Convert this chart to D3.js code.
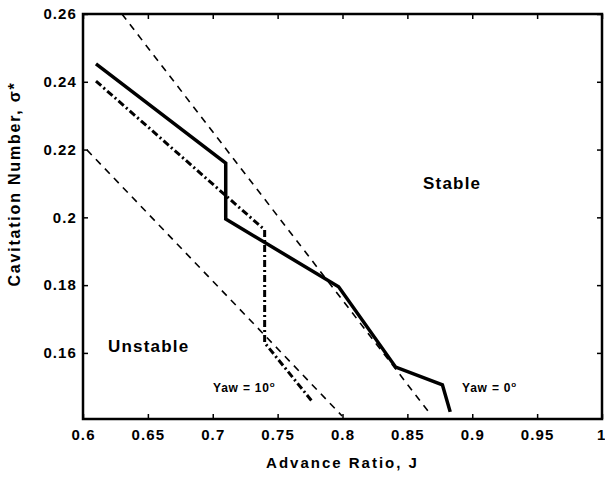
<!DOCTYPE html>
<html><head><meta charset="utf-8">
<script src="https://cdn.jsdelivr.net/npm/d3@7"></script>
<style>
body{margin:0;background:#fff;}
text{font-family:"Liberation Sans",Arial,Helvetica,sans-serif;font-weight:bold;fill:#000;}
</style></head>
<body><svg id="c" width="605" height="478"></svg>
<script>
// Data
const xTicks = [0.6,0.65,0.7,0.75,0.8,0.85,0.9,0.95,1];
const xTickLabels = ["0.6","0.65","0.7","0.75","0.8","0.85","0.9","0.95","1"];
const yTicks = [0.16,0.18,0.2,0.22,0.24,0.26];
const yTickLabels = ["0.16","0.18","0.2","0.22","0.24","0.26"];
const yaw0J = [0.61, 0.71, 0.71, 0.797, 0.841, 0.877, 0.883];
const yaw0Sigma = [0.2453, 0.216, 0.1995, 0.1795, 0.1558, 0.1506, 0.1426];
const yaw10J = [0.61, 0.74, 0.74, 0.777];
const yaw10Sigma = [0.2402, 0.1963, 0.163, 0.1455];
const upperBoundJ = [0.63, 0.867];
const upperBoundSigma = [0.26, 0.1423];
const lowerBoundJ = [0.603, 0.7997];
const lowerBoundSigma = [0.2199, 0.1414];

const L=83, R=602, T=14, B=419;
const svg = d3.select("#c");
const x = d3.scaleLinear().domain([0.6,1]).range([L,R]);
const y = d3.scaleLinear().domain([0.1405,0.26]).range([B,T]);

const fmtX = d=>xTickLabels[xTicks.indexOf(d)];
const fmtY = d=>yTickLabels[yTicks.indexOf(d)];

function styleAxis(g){
  g.select(".domain").remove();
  g.selectAll(".tick line").attr("stroke","#000").attr("stroke-width",1.5);
  g.selectAll(".tick text").style("font-size","15px").style("letter-spacing","1.1px");
}
const gx = svg.append("g").attr("transform",`translate(0,${B})`)
  .call(d3.axisBottom(x).tickValues(xTicks).tickFormat(fmtX).tickSizeInner(-5).tickSizeOuter(0).tickPadding(10))
  .call(styleAxis);
// keep the last label ("1") inside the picture
gx.selectAll(".tick text").filter(d=>d===1).attr("text-anchor","end").attr("dx",4);
svg.append("g").attr("transform",`translate(0,${T})`)
  .call(d3.axisTop(x).tickValues(xTicks).tickFormat("").tickSizeInner(-5).tickSizeOuter(0))
  .call(styleAxis);
svg.append("g").attr("transform",`translate(${L},0)`)
  .call(d3.axisLeft(y).tickValues(yTicks).tickFormat(fmtY).tickSizeInner(-5).tickSizeOuter(0).tickPadding(6))
  .call(styleAxis);
svg.append("g").attr("transform",`translate(${R},0)`)
  .call(d3.axisRight(y).tickValues(yTicks).tickFormat("").tickSizeInner(-5).tickSizeOuter(0))
  .call(styleAxis);

svg.append("rect").attr("x",L).attr("y",T).attr("width",R-L).attr("height",B-T)
  .attr("fill","none").attr("stroke","#000").attr("stroke-width",2.5);

const line = d3.line().x(d=>x(d[0])).y(d=>y(d[1]));
const zip = (a,b)=>a.map((v,i)=>[v,b[i]]);

svg.append("path").datum(zip(upperBoundJ,upperBoundSigma)).attr("d",line)
  .attr("fill","none").attr("stroke","#000").attr("stroke-width",1.6).attr("stroke-dasharray","7,6");
svg.append("path").datum(zip(lowerBoundJ,lowerBoundSigma)).attr("d",line)
  .attr("fill","none").attr("stroke","#000").attr("stroke-width",1.6).attr("stroke-dasharray","7,6");
svg.append("path").datum(zip(yaw10J,yaw10Sigma)).attr("d",line)
  .attr("fill","none").attr("stroke","#000").attr("stroke-width",3).attr("stroke-dasharray","7,3,2,3");
svg.append("path").datum(zip(yaw0J,yaw0Sigma)).attr("d",line)
  .attr("fill","none").attr("stroke","#000").attr("stroke-width",3.5).attr("stroke-linejoin","miter");

// Titles
svg.append("text").attr("x",(L+R)/2).attr("y",468).attr("text-anchor","middle")
  .style("font-size","15px").style("letter-spacing","2px").text("Advance Ratio, J");
svg.append("text").attr("transform","translate(20,184) rotate(-90)").attr("text-anchor","middle")
  .style("font-size","16px").style("letter-spacing","1.8px").text("Cavitation Number, σ*");

// Region labels
svg.append("text").attr("x",423).attr("y",189).style("font-size","17px").style("letter-spacing","1.2px").text("Stable");
svg.append("text").attr("x",108).attr("y",352).style("font-size","17px").style("letter-spacing","1.2px").text("Unstable");

const lab1 = svg.append("text").attr("x",213).attr("y",392).style("font-size","12px").style("letter-spacing","0.8px");
lab1.append("tspan").text("Yaw = 10");
lab1.append("tspan").attr("dy",-5).style("font-size","8px").text("o");
const lab2 = svg.append("text").attr("x",462).attr("y",392).style("font-size","12px").style("letter-spacing","0.8px");
lab2.append("tspan").text("Yaw = 0");
lab2.append("tspan").attr("dy",-5).style("font-size","8px").text("o");
</script></body></html>
